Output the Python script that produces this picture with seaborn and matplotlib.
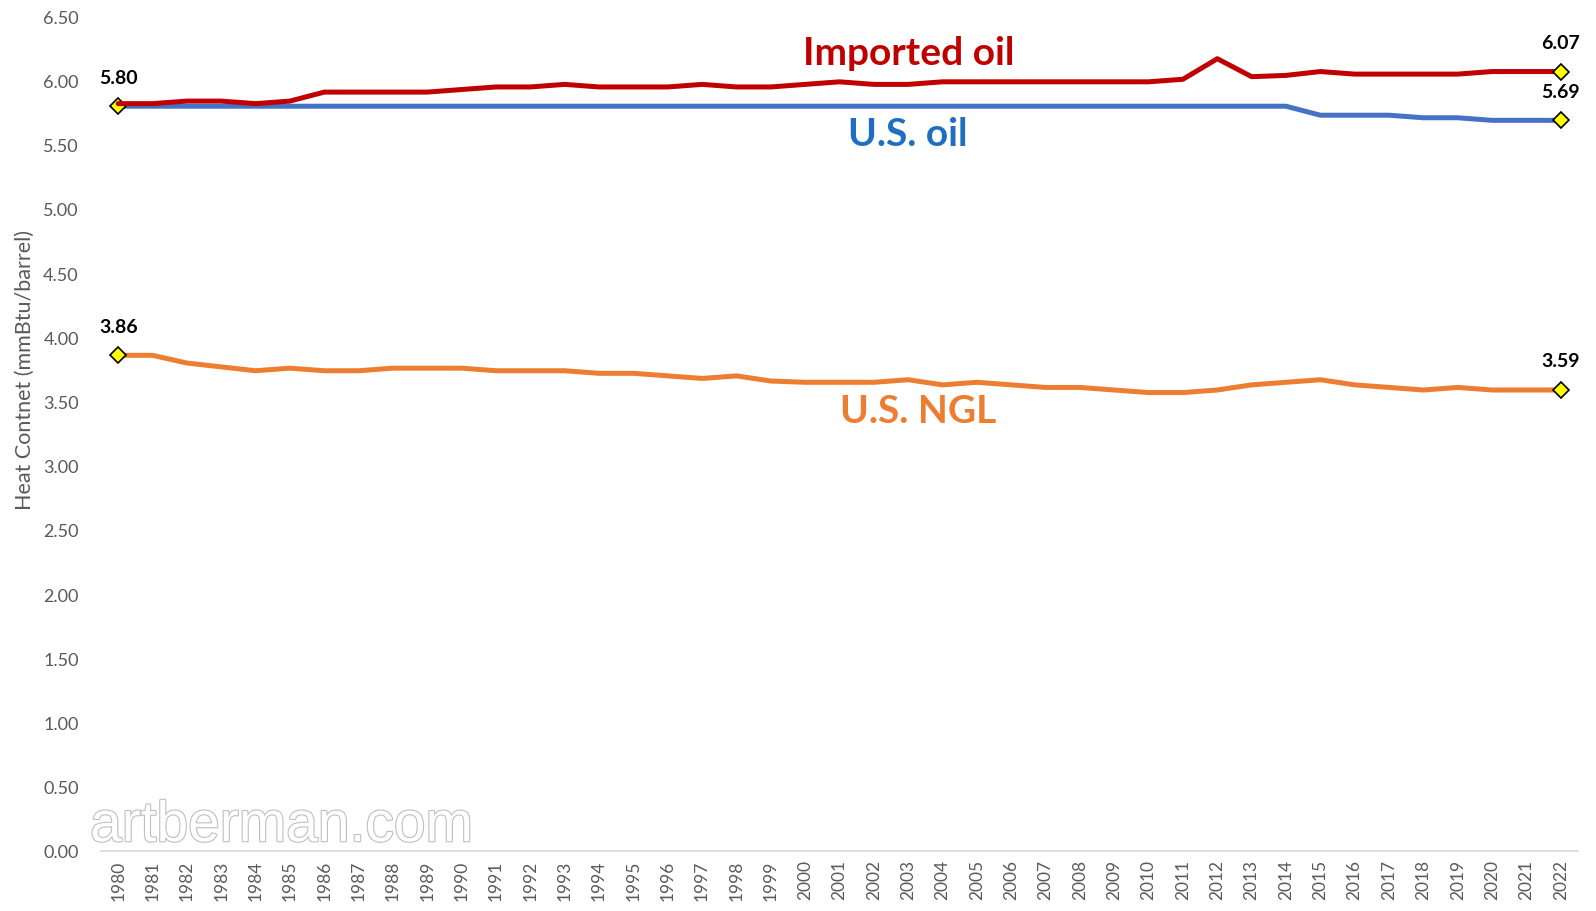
import matplotlib
matplotlib.use("Agg")
import matplotlib.pyplot as plt
import matplotlib.patheffects as pe
import seaborn as sns
import pandas as pd

years = list(range(1980, 2023))
imported_oil = [5.82, 5.82, 5.84, 5.84, 5.82, 5.84, 5.91, 5.91, 5.91, 5.91,
                5.93, 5.95, 5.95, 5.97, 5.95, 5.95, 5.95, 5.97, 5.95, 5.95,
                5.97, 5.99, 5.97, 5.97, 5.99, 5.99, 5.99, 5.99, 5.99, 5.99,
                5.99, 6.01, 6.17, 6.03, 6.04, 6.07, 6.05, 6.05, 6.05, 6.05,
                6.07, 6.07, 6.07]
us_oil = [5.80] * 35 + [5.73, 5.73, 5.73, 5.71, 5.71, 5.69, 5.69, 5.69]
us_ngl = [3.86, 3.86, 3.80, 3.77, 3.74, 3.76, 3.74, 3.74, 3.76, 3.76,
          3.76, 3.74, 3.74, 3.74, 3.72, 3.72, 3.70, 3.68, 3.70, 3.66,
          3.65, 3.65, 3.65, 3.67, 3.63, 3.65, 3.63, 3.61, 3.61, 3.59,
          3.57, 3.57, 3.59, 3.63, 3.65, 3.67, 3.63, 3.61, 3.59, 3.61,
          3.59, 3.59, 3.59]
series_names = ["U.S. NGL", "U.S. oil", "Imported oil"]
series_colors = {"Imported oil": "#C00000", "U.S. oil": "#4472C4", "U.S. NGL": "#ED7D31"}
label_colors = {"Imported oil": "#C00000", "U.S. oil": "#1F6FC0", "U.S. NGL": "#ED7D31"}
label_pos = {"Imported oil": (2003, 6.22), "U.S. oil": (2003, 5.59), "U.S. NGL": (2003.3, 3.43)}
y_ticks = [0.0, 0.5, 1.0, 1.5, 2.0, 2.5, 3.0, 3.5, 4.0, 4.5, 5.0, 5.5, 6.0, 6.5]
y_label = "Heat Contnet (mmBtu/barrel)"
watermark = "artberman.com"

values = {"Imported oil": imported_oil, "U.S. oil": us_oil, "U.S. NGL": us_ngl}
df = pd.DataFrame({
    "Year": years * 3,
    "Value": us_ngl + us_oil + imported_oil,
    "Series": [n for n in series_names for _ in years],
})

sns.set_theme(style="white")
plt.rcParams['font.family'] = ['Lato', 'DejaVu Sans']

fig = plt.figure(figsize=(15.96, 9.12), dpi=100)
ax = fig.add_axes([0.0633, 0.0658, 0.9254, 0.9152])

sns.lineplot(data=df, x="Year", y="Value", hue="Series", hue_order=series_names,
             palette=series_colors, linewidth=3.6, legend=False, ax=ax)
ax.get_lines()[2].set_zorder(2.7)

# end-point markers and data labels
marker_kw = dict(marker="D", markersize=8, markerfacecolor="#FFFF00",
                 markeredgecolor="black", markeredgewidth=1.2, linestyle="none")
for name in ["U.S. oil", "U.S. NGL"]:
    v = values[name]
    ax.plot([years[0]], [v[0]], zorder=2.5, **marker_kw)
    ax.annotate(f"{v[0]:.2f}", (years[0], v[0]), xytext=(0, 21), textcoords="offset points",
                ha="center", va="center", fontsize=14, fontweight="bold", color="black")
for name in ["Imported oil", "U.S. oil", "U.S. NGL"]:
    v = values[name]
    ax.plot([years[-1]], [v[-1]], zorder=3, **marker_kw)
    ax.annotate(f"{v[-1]:.2f}", (years[-1], v[-1]), xytext=(0, 21), textcoords="offset points",
                ha="center", va="center", fontsize=14, fontweight="bold", color="black")

for name, (lx, ly) in label_pos.items():
    ax.text(lx, ly, name, ha="center", va="center", fontsize=28, fontweight="bold",
            color=label_colors[name])

ax.set_xlim(years[0] - 0.5, years[-1] + 0.5)
ax.set_ylim(0, 6.5)
ax.set_xticks(years)
ax.set_xticklabels([str(y) for y in years], rotation=90)
ax.set_yticks(y_ticks)
ax.set_yticklabels([f"{t:.2f}" for t in y_ticks])
ax.tick_params(axis="both", length=0, colors="#595959")
ax.tick_params(axis="y", labelsize=13, pad=16)
ax.tick_params(axis="x", labelsize=12.5, pad=6)
ax.set_xlabel("")
ax.set_ylabel(y_label, fontsize=15.5, color="#595959")
ax.yaxis.set_label_coords(-0.045, 0.577)
for s in ["left", "top", "right"]:
    ax.spines[s].set_visible(False)
ax.spines["bottom"].set_color("#D9D9D9")
ax.spines["bottom"].set_linewidth(1.2)
ax.grid(False)

fig.text(0.0564, 0.093, watermark, fontsize=41, family="Liberation Sans", color="white",
         va="center", ha="left",
         path_effects=[pe.withStroke(linewidth=1.6, foreground="#BFBFBF")])

fig.savefig("out.png", dpi=100)
